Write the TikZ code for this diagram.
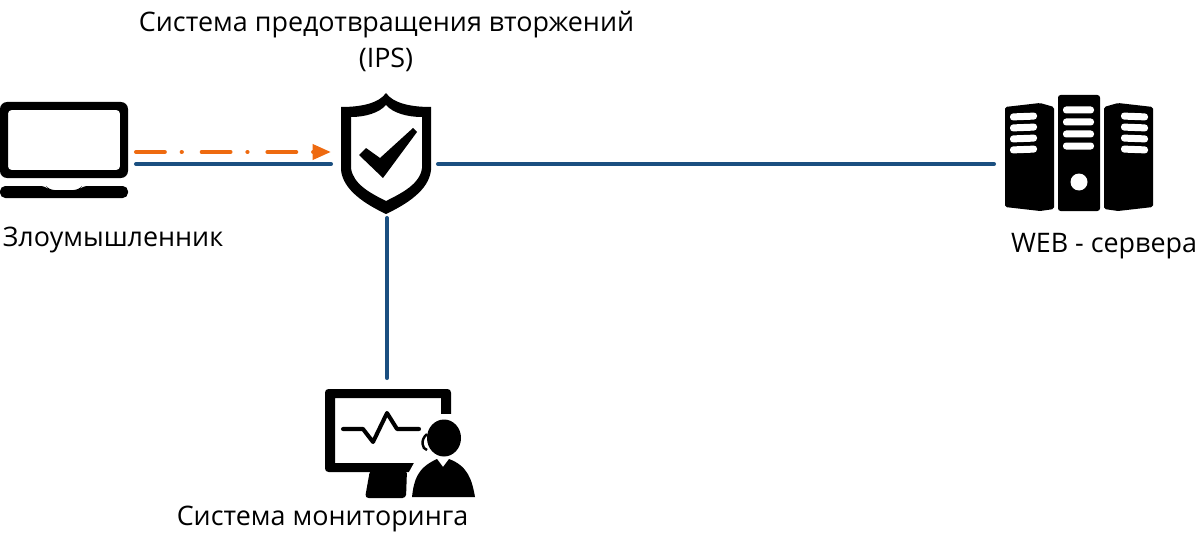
\documentclass[tikz,border=0pt]{standalone}
\usepackage{fontspec}
\setmainfont{Open Sans}
\usetikzlibrary{arrows.meta}
\definecolor{LinkBlue}{HTML}{1A4F80}
\definecolor{AttackOrange}{HTML}{EE6A10}
\tikzset{
  iconbox/.style={inner sep=0pt, outer sep=0pt, minimum height=108*0.02cm},
  caption/.style={inner sep=0pt, font=\fontsize{15.3pt}{18pt}\selectfont},
  link/.style={LinkBlue, line width=2.3pt, line cap=round},
  attack/.style={AttackOrange, line width=2.3pt, line cap=round,
    dash pattern=on 16.4pt off 9.6pt on 0.1pt off 11.3pt,
    -{Triangle[length=10.5pt,width=8.5pt]}},
  slot/.style={fill=white, rounded corners=1.8pt},
}
\begin{document}
\begin{tikzpicture}[x=0.02cm, y=-0.02cm]
    \useasboundingbox (0,0) rectangle (1200,537);

    % Boxes round the icons, connectors end on them
    \node[iconbox, minimum width=136*0.02cm] (laptop) at (68,164) {};
    \node[iconbox, minimum width=107*0.02cm] (shield) at (384.5,164) {};
    \node[iconbox, minimum width=170*0.02cm] (server) at (1079,164) {};
    \node[iconbox, minimum width=150*0.02cm, minimum height=90*0.02cm] (monitor) at (387,423) {};

    % Draw connectors
    \draw[link] (laptop.east) -- (shield.west);
    \draw[link] (shield.east) -- (server.west);
    \draw[link] (shield.south -| monitor.north) -- (monitor.north);
    \draw[attack] ([yshift=12*0.02cm]laptop.east) -- ([yshift=12*0.02cm]shield.west);

    % Laptop
    \fill[black, rounded corners=4pt, even odd rule]
        (0,102) rectangle (128,178)
        [rounded corners=2pt] (8,110) rectangle (120,170);
    \fill[black, rounded corners=3pt] (0,186) -- (46,186) -- (49,190) -- (79,190) -- (82,186)
        -- (128,186) -- (128,198) -- (0,198) -- cycle;

    % Shield with check mark
    \fill[black, even odd rule]
        (386,93) .. controls (379,103) and (362,107) .. (341,107)
        -- (341,170) .. controls (343,190) and (365,204) .. (386,214)
        .. controls (407,204) and (429,190) .. (431,170) -- (431,107)
        .. controls (410,107) and (393,103) .. (386,93) -- cycle
        (386,105) .. controls (379,113) and (365,117) .. (351,117)
        -- (351,168) .. controls (353,184) and (370,193) .. (386,201)
        .. controls (402,193) and (420,184) .. (422,168) -- (422,117)
        .. controls (407,117) and (393,113) .. (386,105) -- cycle;
    \fill[black] (359,155) -- (366,148) -- (380,158) -- (413,128) -- (417,132) -- (383,178) -- cycle;

    % Server racks
    \foreach \m in {1,-1} {
      \begin{scope}[shift={(1079,0)}, xscale=\m]
        \fill[black, rounded corners=1pt] (-74,107) -- (-39,103) -- (-25,107) -- (-25,209)
            -- (-39,211) -- (-74,207) -- cycle;
        \foreach \yy in {117,128,139,150}
          \fill[slot] (-69,\yy-3.5) -- (-42,\yy-4.5) -- (-42,\yy+2.5) -- (-69,\yy+3.5) -- cycle;
      \end{scope}
    }
    \fill[black, rounded corners=1.5pt] (1058,95) rectangle (1100,211);
    \foreach \yy in {110,122,134,146}
      \fill[slot] (1063,\yy-3.5) rectangle (1094,\yy+3.5);
    \fill[white] (1079,182) circle (8.5);

    % Monitor with operator
    \fill[black, rounded corners=2pt, even odd rule]
        (325,389) rectangle (451,472)
        [sharp corners] (335,398) rectangle (441,463);
    \fill[black, rounded corners=2pt] (370,470) -- (407,470) -- (406,498) -- (365,498) -- cycle;
    \draw[black, line width=2.3pt, line cap=round, line join=round]
        (343,429) -- (363,429) -- (373,442) -- (387,413) -- (397,429) -- (419,429);
    \fill[white] (441,414) -- (455,414) -- (455,500) -- (408,500) -- (409,472) -- (414,463) -- (420,463) -- (441,463) -- cycle;
    \fill[black] (444,438) ellipse (17 and 18.5);
    \draw[black, line width=1.4pt] (427,434) .. controls (420,440) and (422,449) .. (427,450);
    \fill[black] (412,497) .. controls (414,480) and (417,468) .. (437,459) -- (443,467) -- (449,459)
        .. controls (468,466) and (472,480) .. (475,497) -- cycle;

    % Labels
    \node[caption] (ipstitle) at (386.5,25) {Система предотвращения вторжений};
    \node[caption] (ipsname) at (386,60) {(IPS)};
    \node[caption] (attacker) at (113,240) {Злоумышленник};
    \node[caption] (webserver) at (1104,246) {WEB - сервера};
    \node[caption] (monitoring) at (322.5,519) {Система мониторинга};
\end{tikzpicture}
\end{document}
